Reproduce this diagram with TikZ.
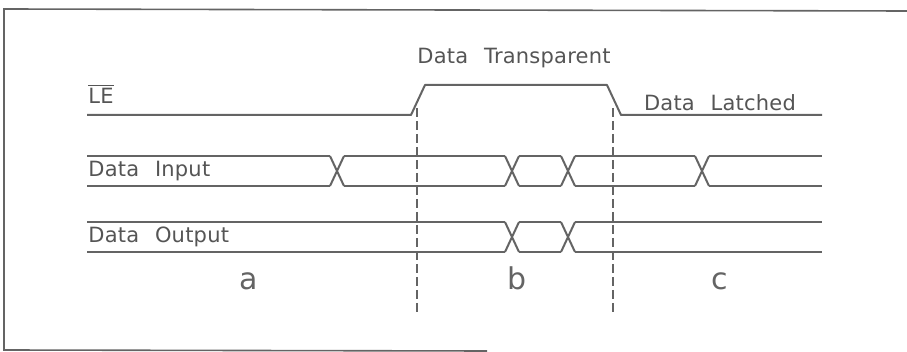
\documentclass[tikz,border=0pt]{standalone}
\usepackage{fontspec}
\newfontfamily\cadfont[LetterSpace=1, WordSpace=2.3]{DejaVu Sans}
\usetikzlibrary{positioning}
\definecolor{InkGray}{RGB}{100,100,100}
\definecolor{TextGray}{RGB}{85,85,85}

\begin{document}
\begin{tikzpicture}[x=0.5pt, y=-0.5pt,
	wave/.style={draw=InkGray, line width=1pt, line join=round},
	cut/.style={draw=InkGray, line width=0.8pt, dash pattern=on 4.5pt off 2pt},
	lbl/.style={font=\cadfont\fontsize{10.5}{12}\selectfont, text=TextGray, inner sep=0pt},
	zone/.style={font=\cadfont\fontsize{15}{18}\selectfont, text=InkGray, inner sep=0pt}]
	\useasboundingbox (0,0) rectangle (907,352);
	% frame
	\draw[InkGray, line width=0.8pt] (907,11) -- (4,9) -- (4,350) -- (487,351);
	% LE
	\draw[wave] (87,115) -- (411,115) -- (425,85) -- (607,85) -- (621,115) -- (822,115);
	\node[lbl, anchor=base west] (le) at (88,104) {$\overline{\mbox{LE}}$};
	\node[lbl, anchor=base] (transp) at (514,64) {Data Transparent};
	\node[lbl, anchor=base] (latch) at (720,111) {Data Latched};
	% data input
	\foreach \a/\b in {87/330, 344/505, 519/561, 575/695, 709/822}
		{\draw[wave] (\a,156) -- (\b,156) (\a,186) -- (\b,186);}
	\foreach \c in {337,512,568,702}
		{\draw[wave] (\c-7,156) -- (\c+7,186) (\c-7,186) -- (\c+7,156);}
	\node[lbl, anchor=base west] (din) at (88,177) {Data Input};
	% data output
	\foreach \a/\b in {87/505, 519/561, 575/822}
		{\draw[wave] (\a,222) -- (\b,222) (\a,252) -- (\b,252);}
	\foreach \c in {512,568}
		{\draw[wave] (\c-7,222) -- (\c+7,252) (\c-7,252) -- (\c+7,222);}
	\node[lbl, anchor=base west] (dout) at (88,243) {Data Output};
	% phase borders
	\draw[cut] (417,108) -- (417,312);
	\draw[cut] (613,108) -- (613,312);
	\node[zone, anchor=base] (za) at (249,290) {a};
	\node[zone, anchor=base] (zb) at (517,290) {b};
	\node[zone, anchor=base] (zc) at (720,290) {c};
\end{tikzpicture}
\end{document}
